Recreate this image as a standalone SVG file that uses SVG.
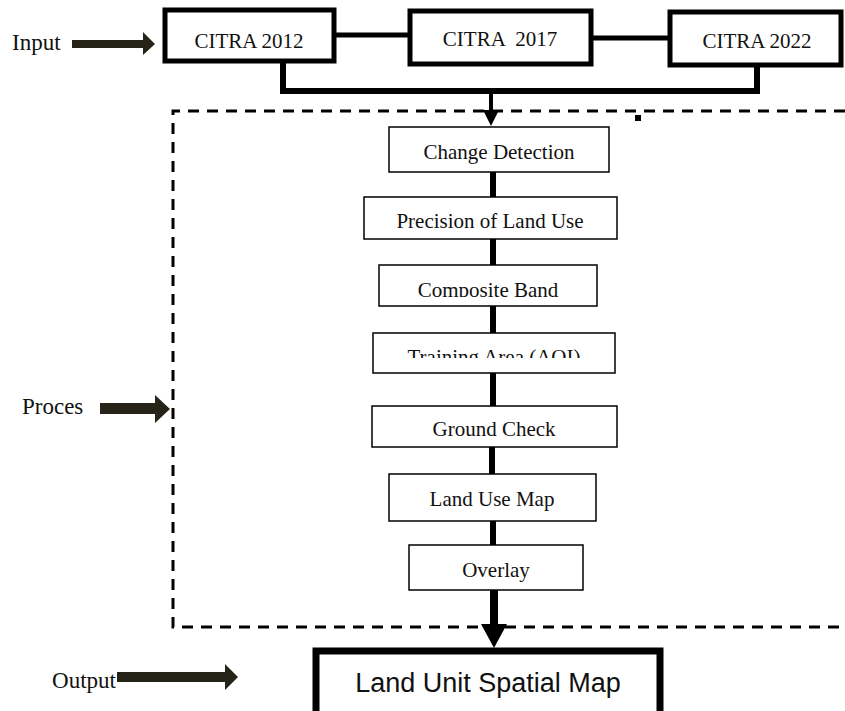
<svg xmlns="http://www.w3.org/2000/svg" width="845" height="711" viewBox="0 0 845 711">
<style>
.t{font-family:"Liberation Serif","Times New Roman",serif;fill:#111;text-anchor:middle}
.lbl{font-family:"Liberation Serif","Times New Roman",serif;fill:#111;font-size:23px}
.thick{fill:#fff;stroke:#000;stroke-width:5}
.thin{fill:#fff;stroke:#000;stroke-width:1.5}
.conn{stroke:#000;fill:none}
.dash{stroke:#000;stroke-width:3;stroke-dasharray:11,8;fill:none}
.big{fill:#262418}
</style>
<defs>
<clipPath id="c1"><rect x="370" y="260" width="240" height="37"/></clipPath>
<clipPath id="c2"><rect x="370" y="330" width="250" height="28"/></clipPath>
</defs>
<rect width="845" height="711" fill="#fff"/>

<g id="connectors">
<line class="conn" x1="335" y1="35" x2="410" y2="35" stroke-width="5"/>
<line class="conn" x1="592" y1="38" x2="670" y2="38" stroke-width="5"/>
<polyline class="conn" points="283,62 283,91 757,91 757,67" stroke-width="6"/>
<line class="conn" x1="491" y1="91" x2="491" y2="112" stroke-width="4"/>
<polygon points="483,110 499,110 491,126" fill="#000"/>
<line class="conn" x1="493" y1="172" x2="493" y2="197" stroke-width="6"/>
<line class="conn" x1="493" y1="239" x2="493" y2="265" stroke-width="6"/>
<line class="conn" x1="493" y1="306" x2="493" y2="333" stroke-width="6"/>
<line class="conn" x1="493" y1="373" x2="493" y2="406" stroke-width="6"/>
<line class="conn" x1="492" y1="447" x2="492" y2="474" stroke-width="6"/>
<line class="conn" x1="493" y1="521" x2="493" y2="545" stroke-width="6"/>
<line class="conn" x1="494" y1="590" x2="494" y2="628" stroke-width="8"/>
<polygon points="481,624 507,624 494,648" fill="#000"/>
</g>

<g id="process-frame">
<polyline class="dash" points="845,111 173,111 173,627 845,627"/>
<rect x="635" y="115" width="6" height="6" fill="#000"/>
</g>

<g id="citra2012"><rect class="thick" x="165" y="10" width="169" height="51"/><text class="t" x="249" y="48" font-size="21">CITRA 2012</text></g>
<g id="citra2017"><rect class="thick" x="410" y="11" width="181" height="53"/><text class="t" x="500" y="46" font-size="21" xml:space="preserve">CITRA  2017</text></g>
<g id="citra2022"><rect class="thick" x="670" y="12" width="171" height="53"/><text class="t" x="757" y="48" font-size="21">CITRA 2022</text></g>

<g id="change-detection"><rect class="thin" x="389" y="127" width="220" height="45"/><text class="t" x="499" y="159" font-size="21">Change Detection</text></g>
<g id="precision"><rect class="thin" x="364" y="197" width="253" height="42"/><text class="t" x="490" y="228" font-size="21">Precision of Land Use</text></g>
<g id="composite"><rect class="thin" x="379" y="265" width="218" height="41"/><text class="t" x="488" y="297" font-size="21" clip-path="url(#c1)">Composite Band</text></g>
<g id="training"><rect class="thin" x="373" y="333" width="242" height="40"/><text class="t" x="494" y="364" font-size="21" clip-path="url(#c2)">Training Area (AOI)</text></g>
<g id="ground-check"><rect class="thin" x="372" y="406" width="245" height="41"/><text class="t" x="494" y="436" font-size="21">Ground Check</text></g>
<g id="land-use-map"><rect class="thin" x="389" y="474" width="207" height="47"/><text class="t" x="492" y="506" font-size="21">Land Use Map</text></g>
<g id="overlay"><rect class="thin" x="409" y="545" width="174" height="45"/><text class="t" x="496" y="577" font-size="21">Overlay</text></g>

<g id="output-map"><rect x="316" y="651" width="344" height="66" fill="#fff" stroke="#000" stroke-width="7"/><text x="488" y="692" font-family="'Liberation Sans',Arial,sans-serif" font-size="27" text-anchor="middle" fill="#111">Land Unit Spatial Map</text></g>

<g id="input-label"><text class="lbl" x="12" y="50">Input</text><polygon class="big" points="72,40 143,40 143,32 155,44 143,55 143,48 72,48"/></g>
<g id="proces-label"><text class="lbl" x="22" y="414">Proces</text><polygon class="big" points="100,403 155,403 155,395 170,409 155,423 155,414 100,414"/></g>
<g id="output-label"><text class="lbl" x="52" y="688" textLength="64" lengthAdjust="spacingAndGlyphs">Output</text><polygon class="big" points="117,672 225,672 225,664 238,677 225,690 225,682 117,682"/></g>
</svg>
